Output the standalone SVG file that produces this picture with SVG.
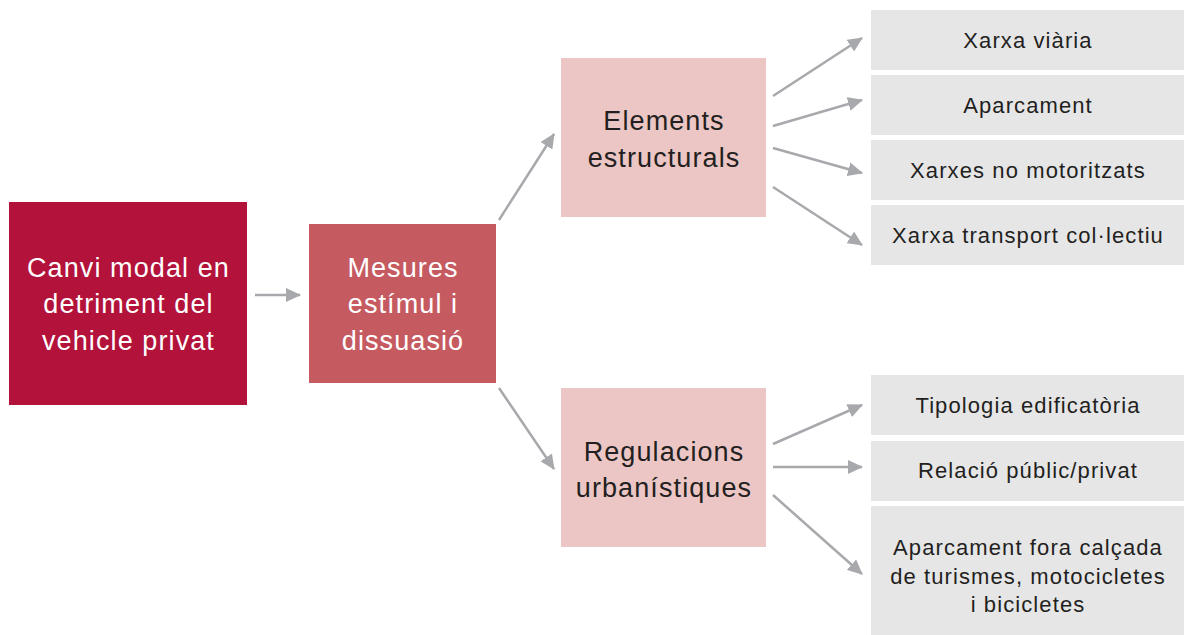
<svg xmlns="http://www.w3.org/2000/svg" width="1184" height="635" viewBox="0 0 1184 635">
<style>
text{font-family:"Liberation Sans",Arial,sans-serif;text-anchor:middle}
.big{font-size:27px;letter-spacing:1.1px}
.small{font-size:22px;letter-spacing:1.1px;fill:#231f20}
.w{fill:#ffffff}
.k{fill:#231f20}
.gray{fill:#e6e6e7}
.pink{fill:#ecc6c4}
.conn line{stroke:#a7a9ac;stroke-width:2.5;marker-end:url(#ah)}
</style>
<defs>
<marker id="ah" markerUnits="userSpaceOnUse" markerWidth="16" markerHeight="14" refX="14" refY="7" orient="auto">
<path d="M0,0 L15,7 L0,14 Z" fill="#a7a9ac"/>
</marker>
</defs>
<rect width="1184" height="635" fill="#ffffff"/>
<g id="n-canvi">
<rect x="9" y="202" width="238" height="203" fill="#b3123a"/>
<text class="big w" x="128.5" y="277">Canvi modal en</text>
<text class="big w" x="128.5" y="313">detriment del</text>
<text class="big w" x="128.5" y="350">vehicle privat</text>
</g>
<g id="n-mesures">
<rect x="309" y="224" width="187" height="159" fill="#c55a60"/>
<text class="big w" x="403" y="277">Mesures</text>
<text class="big w" x="403" y="313">estímul i</text>
<text class="big w" x="403" y="350">dissuasió</text>
</g>
<g id="n-elements">
<rect class="pink" x="561" y="58" width="205" height="159"/>
<text class="big k" x="664" y="130">Elements</text>
<text class="big k" x="664" y="167">estructurals</text>
</g>
<g id="n-regulacions">
<rect class="pink" x="561" y="388" width="205" height="159"/>
<text class="big k" x="664" y="461">Regulacions</text>
<text class="big k" x="664" y="497">urbanístiques</text>
</g>
<g id="n-xarxa-viaria">
<rect class="gray" x="871" y="10" width="313" height="60"/>
<text class="small" x="1028" y="48">Xarxa viària</text>
</g>
<g id="n-aparcament">
<rect class="gray" x="871" y="75" width="313" height="60"/>
<text class="small" x="1028" y="113">Aparcament</text>
</g>
<g id="n-xarxes-no-motoritzats">
<rect class="gray" x="871" y="140" width="313" height="60"/>
<text class="small" x="1028" y="178">Xarxes no motoritzats</text>
</g>
<g id="n-xarxa-transport">
<rect class="gray" x="871" y="205" width="313" height="60"/>
<text class="small" x="1028" y="243">Xarxa transport col·lectiu</text>
</g>
<g id="n-tipologia">
<rect class="gray" x="871" y="375" width="313" height="60"/>
<text class="small" x="1028" y="413">Tipologia edificatòria</text>
</g>
<g id="n-relacio">
<rect class="gray" x="871" y="441" width="313" height="60"/>
<text class="small" x="1028" y="478">Relació públic/privat</text>
</g>
<g id="n-aparcament-fora">
<rect class="gray" x="871" y="506" width="313" height="129"/>
<text class="small" x="1028" y="555">Aparcament fora calçada</text>
<text class="small" x="1028" y="584">de turismes, motocicletes</text>
<text class="small" x="1028" y="612">i bicicletes</text>
</g>
<g id="connectors" class="conn">
<line x1="255" y1="295" x2="300" y2="295"/>
<line x1="499" y1="220" x2="554" y2="134"/>
<line x1="499" y1="388" x2="554" y2="469"/>
<line x1="773" y1="96" x2="862" y2="38"/>
<line x1="773" y1="126" x2="862" y2="100"/>
<line x1="773" y1="148" x2="862" y2="173"/>
<line x1="773" y1="187" x2="862" y2="245"/>
<line x1="773" y1="444" x2="862" y2="405"/>
<line x1="773" y1="467" x2="862" y2="467"/>
<line x1="773" y1="495" x2="862" y2="574"/>
</g>
</svg>
